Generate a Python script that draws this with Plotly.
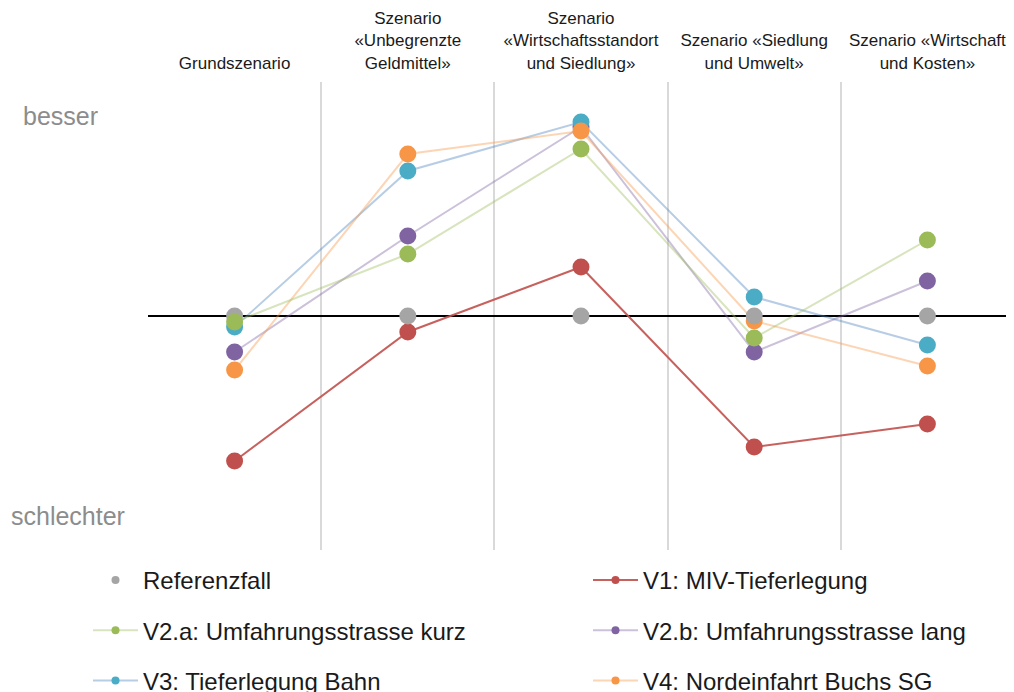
import plotly.graph_objects as go

categories = [
    "Grundszenario",
    "Szenario<br>«Unbegrenzte<br>Geldmittel»",
    "Szenario<br>«Wirtschaftsstandort<br>und Siedlung»",
    "Szenario «Siedlung<br>und Umwelt»",
    "Szenario «Wirtschaft<br>und Kosten»",
]

series_names = [
    "Referenzfall",
    "V1: MIV-Tieferlegung",
    "V2.a: Umfahrungsstrasse kurz",
    "V2.b: Umfahrungsstrasse lang",
    "V3: Tieferlegung Bahn",
    "V4: Nordeinfahrt Buchs SG",
]
referenzfall = [0, 0, 0, 0, 0]
v1 = [-14.5, -1.6, 4.9, -13.1, -10.8]
v2a = [-0.6, 6.2, 16.7, -2.2, 7.6]
v2b = [-3.6, 8.0, 18.9, -3.6, 3.5]
v3 = [-1.1, 14.5, 19.4, 1.9, -2.9]
v4 = [-5.4, 16.2, 18.5, -0.5, -5.0]

side_labels = ["besser", "schlechter"]
side_values = [20, -20]

values = [referenzfall, v1, v2a, v2b, v3, v4]
marker_colors = ["#a5a5a5", "#c0504d", "#9bbb59", "#8064a2", "#4bacc6", "#f79646"]
line_colors = [None, "rgba(192,80,77,0.9)", "rgba(155,187,89,0.40)",
               "rgba(128,100,162,0.40)", "rgba(75,130,190,0.40)", "rgba(247,150,70,0.40)"]
legend_ids = ["legend", "legend2", "legend", "legend2", "legend", "legend2"]
draw_order = [1, 3, 4, 5, 0, 2]

# page offset of the figure inside the browser (body margin)
OFF = 8
PLOT_L, PLOT_T, PLOT_B = 148 - OFF, 82 - OFF, 550 - OFF
FIG_W, FIG_H = 1014 - OFF, 692 - OFF
PLOT_W, PLOT_H = FIG_W - PLOT_L, PLOT_B - PLOT_T

fig = go.Figure()
x_idx = list(range(len(categories)))
for i in draw_order:
    if line_colors[i] is None:
        fig.add_trace(go.Scatter(x=x_idx, y=values[i], mode="markers",
                                 marker=dict(size=17, color=marker_colors[i]),
                                 showlegend=False, hoverinfo="skip"))
    else:
        fig.add_trace(go.Scatter(x=x_idx, y=values[i], mode="lines+markers",
                                 line=dict(color=line_colors[i], width=2),
                                 marker=dict(size=17, color=marker_colors[i]),
                                 showlegend=False, hoverinfo="skip"))

# legend-only entries (small markers like the original legend)
for i, name in enumerate(series_names):
    if line_colors[i] is None:
        fig.add_trace(go.Scatter(x=[None], y=[None], mode="markers", name=name,
                                 marker=dict(size=8, color=marker_colors[i]),
                                 legend=legend_ids[i], legendgroup=name))
    else:
        fig.add_trace(go.Scatter(x=[None], y=[None], mode="lines+markers", name=name,
                                 line=dict(color=line_colors[i], width=2),
                                 marker=dict(size=8, color=marker_colors[i]),
                                 legend=legend_ids[i], legendgroup=name))

for lab, val, xc in zip(side_labels, side_values, [60, 68]):
    fig.add_annotation(text=lab, x=(xc - OFF - PLOT_L) / PLOT_W, xref="paper", y=val, yref="y",
                       showarrow=False, xanchor="center", yanchor="middle",
                       font=dict(size=25, color="#8c8c8c"))

legend_top = 558 - OFF
legend_common = dict(
    orientation="v", xref="paper", yref="paper", yanchor="top", xanchor="left",
    y=(PLOT_B - legend_top) / PLOT_H,
    font=dict(size=24, color="#1a1a1a", family="Liberation Sans, Arial, sans-serif"),
    tracegroupgap=16, itemwidth=45, bgcolor="rgba(0,0,0,0)",
)

fig.update_layout(
    width=FIG_W, height=FIG_H,
    margin=dict(l=PLOT_L, r=0, t=PLOT_T, b=FIG_H - PLOT_B, autoexpand=False),
    paper_bgcolor="white", plot_bgcolor="white",
    font=dict(family="Liberation Sans, Arial, sans-serif", color="#1a1a1a"),
    xaxis=dict(
        tickmode="array", tickvals=x_idx, ticktext=categories,
        range=[-0.5, 4.5], side="top", tickangle=0, ticklabelstandoff=9,
        showgrid=False, zeroline=False, showline=False, ticks="",
        minor=dict(tickvals=[-0.5, 0.5, 1.5, 2.5, 3.5], showgrid=True,
                   gridcolor="#d9d9d9", gridwidth=2, ticks=""),
        tickfont=dict(size=17, color="#1a1a1a"),
        fixedrange=True,
    ),
    yaxis=dict(
        range=[-23.4, 23.4], showgrid=False, showticklabels=False, ticks="",
        zeroline=True, zerolinecolor="#000000", zerolinewidth=2, showline=False,
    ),
    legend=dict(x=(88 - OFF - PLOT_L) / PLOT_W, **legend_common),
    legend2=dict(x=(588 - OFF - PLOT_L) / PLOT_W, **legend_common),
)

fig.write_html("out.html")
